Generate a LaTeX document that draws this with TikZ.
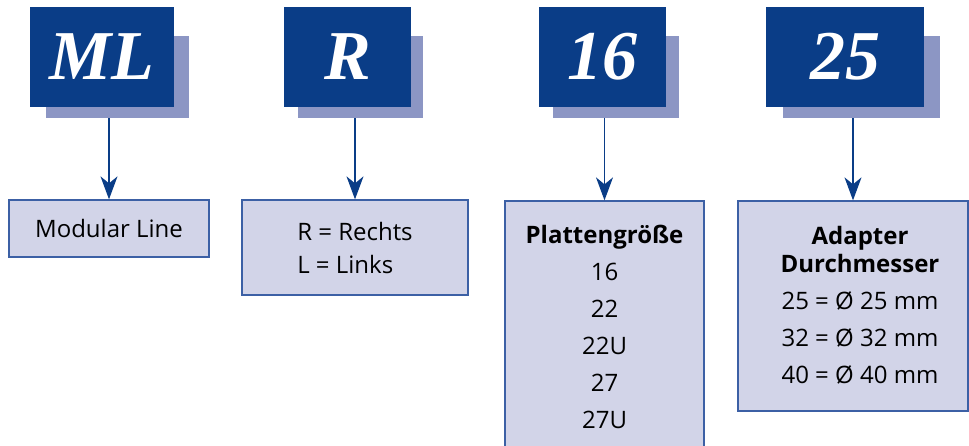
\documentclass[tikz,border=0pt]{standalone}
\usepackage{fontspec}
\setmainfont{Open Sans}
\newfontfamily\codefont{Liberation Serif}
\usetikzlibrary{arrows.meta}
\definecolor{codeblue}{RGB}{10,61,135}
\definecolor{shadowblue}{RGB}{140,150,196}
\definecolor{boxfill}{RGB}{210,212,232}
\definecolor{boxline}{RGB}{60,96,165}

\begin{document}
\begin{tikzpicture}[x=1pt,y=-1pt,
    codebox/.style={fill=codeblue,text=white,minimum height=100pt,inner sep=0pt,
      font=\codefont\bfseries\itshape\fontsize{70}{70}\selectfont},
    shadowbox/.style={fill=shadowblue,minimum height=82pt,inner sep=0pt},
    infobox/.style={draw=boxline,line width=1.3pt,fill=boxfill,inner sep=0pt,
      align=center,font=\fontsize{24}{37}\selectfont},
    pointer/.style={draw=codeblue,line width=1.5pt,
      -{Stealth[length=23pt,width=17pt,inset=7pt]}}]
    \useasboundingbox (0,0) rectangle (969,445);

    \node[shadowbox,minimum width=143pt] (mlshadow) at (117.5,77) {};
    \node[codebox,minimum width=144pt] (mlcode) at (102,57) {ML};

    \node[shadowbox,minimum width=125pt] (rshadow) at (360.5,77) {};
    \node[codebox,minimum width=127pt] (rcode) at (347.5,57) {R};

    \node[shadowbox,minimum width=126pt] (sizeshadow) at (616,77) {};
    \node[codebox,minimum width=127pt] (sizecode) at (602.5,57) {16};

    \node[shadowbox,minimum width=157pt] (diashadow) at (861.5,77) {};
    \node[codebox,minimum width=158pt] (diacode) at (845,57) {25};

    \node[infobox,minimum width=200pt,minimum height=57pt] (mlbox) at (109,228.5) {Modular Line};

    \node[infobox,minimum width=226pt,minimum height=95pt,align=left,
      font=\fontsize{24}{33}\selectfont] (rbox) at (355,247.5) {R = Rechts\\L = Links};

    \node[infobox,minimum width=199pt,minimum height=251pt] (sizebox) at (604.5,326.5)
      {\textbf{Plattengröße}\\16\\22\\22U\\27\\27U};

    \node[infobox,minimum width=230pt,minimum height=210pt] (diabox) at (853,306) {};
    \node[align=center,inner sep=0pt,font=\fontsize{24}{37}\selectfont] (diatext) at (860,305)
      {\textbf{Adapter}\\[-9pt]\textbf{Durchmesser}\\25 = Ø 25 mm\\32 = Ø 32 mm\\40 = Ø 40 mm};

    \draw[pointer] (mlbox.north |- mlshadow.south) -- (mlbox.north);
    \draw[pointer] (rbox.north |- rshadow.south) -- (rbox.north);
    \draw[pointer] (sizebox.north |- sizeshadow.south) -- (sizebox.north);
    \draw[pointer] (diabox.north |- diashadow.south) -- (diabox.north);
\end{tikzpicture}
\end{document}
